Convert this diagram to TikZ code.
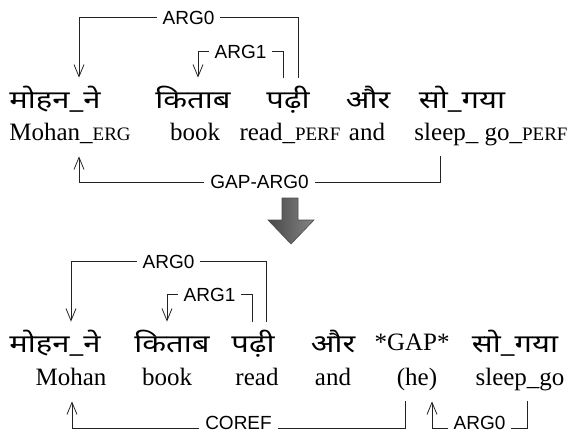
\documentclass[tikz,border=0pt]{standalone}
\usepackage{fontspec}
\setmainfont{Liberation Serif}
\newfontfamily\devfont[Script=Devanagari, FakeStretch=1.24]{Noto Sans}
\newfontfamily\lblfont{Liberation Sans}
\usetikzlibrary{arrows.meta,calc}
\definecolor{fg}{RGB}{35,35,35}
\definecolor{bg}{RGB}{255,255,255}
\newcommand{\glos}[1]{{\fontsize{19}{20}\selectfont #1}}
\tikzset{
  every picture/.style={line width=0.8pt, line join=miter,
    >={Straight Barb[length=12pt,width=10pt,line width=0.8pt]}},
  % Wörter
  hin/.style={anchor=base, inner sep=0pt, text height=30pt, text depth=2pt,
    font=\devfont\fontsize{25}{30}\selectfont},
  eng/.style={anchor=base, inner sep=0pt, text height=18pt, text depth=16pt,
    font=\fontsize{25}{30}\selectfont},
  % Relationen
  dep/.style={fg, ->},
  lbl/.style={fill=bg, inner xsep=6pt, inner ysep=1pt, text=black,
    font=\lblfont\fontsize{19}{22}\selectfont},
}

\begin{document}
\begin{tikzpicture}[x=1pt, y=-1pt]
  \useasboundingbox (0,0) rectangle (572,433);
  % Satz mit Lücke
  \node[hin] (h1) at (55,108) {मोहन\_ने};
  \node[hin] (h2) at (193,108) {किताब};
  \node[hin] (h3) at (288,108) {पढ़ी};
  \node[hin] (h4) at (368,108) {और};
  \node[hin] (h5) at (462,108) {सो\_गया};
  \node[eng] (e1) at (70,140) {Mohan\_\glos{ERG}};
  \node[eng] (e2) at (195,140) {book};
  \node[eng] (e3) at (290,140) {read\_\glos{PERF}};
  \node[eng] (e4) at (367,140) {and};
  \node[eng] (e5) at (491,140) {sleep\_ go\_\glos{PERF}};
  \draw[dep] ([xshift=10pt]h3.north) -- ++(0,-60) -| node[lbl, pos=.25] {ARG0} ([xshift=24pt]h1.north);
  \draw[dep] ([xshift=-5pt]h3.north) -- ++(0,-26) -| node[lbl, pos=.25] {ARG1} ([xshift=5pt]h2.north);
  \draw[dep] ([xshift=-51pt]e5.south) -- ++(0,26) -| node[lbl, pos=.25] {GAP-ARG0} ([xshift=9pt]e1.south);
  % Pfeil nach unten
  \shade[draw=black!70, line width=0.6pt, left color=black!72, middle color=black!22, right color=black!48]
    (282,198) -- (298,198) -- (298,220) -- (314,220) -- (291,244) -- (268,220) -- (282,220) -- cycle;
  % Satz mit *GAP*
  \node[hin] (b1) at (55,352) {मोहन\_ने};
  \node[hin] (b2) at (172,352) {किताब};
  \node[hin] (b3) at (253,352) {पढ़ी};
  \node[hin] (b4) at (333,352) {और};
  \node[hin, font=\fontsize{25}{30}\selectfont] (b5) at (412,350) {*GAP*};
  \node[hin] (b6) at (515,352) {सो\_गया};
  \node[eng] (f1) at (71,385) {Mohan};
  \node[eng] (f2) at (167,385) {book};
  \node[eng] (f3) at (257,385) {read};
  \node[eng] (f4) at (333,385) {and};
  \node[eng] (f5) at (417,385) {(he)};
  \node[eng] (f6) at (520,385) {sleep\_go};
  \draw[dep] ([xshift=13pt]b3.north) -- ++(0,-60) -| node[lbl, pos=.25] {ARG0} ([xshift=16pt]b1.north);
  \draw[dep] ([xshift=-1pt]b3.north) -- ++(0,-27) -| node[lbl, pos=.25] {ARG1} ([xshift=-5pt]b2.north);
  % unten knapp am Rand: Beschriftung etwas angehoben
  \draw[dep] ([xshift=-12pt]f5.south) -- ++(0,27) -| node[lbl, pos=.25, yshift=5pt] {COREF} ([xshift=1pt]f1.south);
  \draw[dep] ([xshift=7pt]f6.south) -- ++(0,27) -| node[lbl, pos=.25, yshift=5pt] {ARG0} ([xshift=15pt]f5.south);
\end{tikzpicture}
\end{document}
